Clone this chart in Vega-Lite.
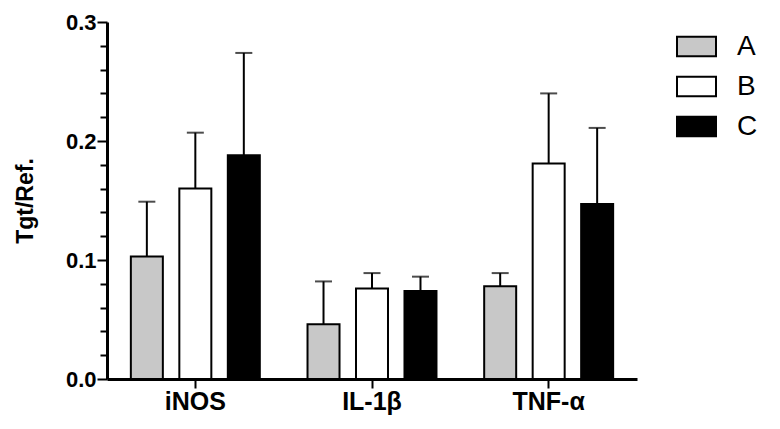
{
  "$schema": "https://vega.github.io/schema/vega-lite/v6.json",
  "autosize": {"type": "none"},
  "padding": {"left": 107, "top": 22, "right": 143, "bottom": 50},
  "width": 530,
  "height": 357,
  "background": "white",
  "data": {
    "values": [
      {"gene": "iNOS", "group": "A", "mean": 0.103, "upper": 0.149},
      {"gene": "iNOS", "group": "B", "mean": 0.160, "upper": 0.207},
      {"gene": "iNOS", "group": "C", "mean": 0.188, "upper": 0.274},
      {"gene": "IL-1β", "group": "A", "mean": 0.046, "upper": 0.082},
      {"gene": "IL-1β", "group": "B", "mean": 0.076, "upper": 0.089},
      {"gene": "IL-1β", "group": "C", "mean": 0.074, "upper": 0.086},
      {"gene": "TNF-α", "group": "A", "mean": 0.078, "upper": 0.089},
      {"gene": "TNF-α", "group": "B", "mean": 0.181, "upper": 0.240},
      {"gene": "TNF-α", "group": "C", "mean": 0.147, "upper": 0.211}
    ]
  },
  "encoding": {
    "x": {
      "field": "gene", "type": "nominal", "sort": ["iNOS", "IL-1β", "TNF-α"],
      "scale": {"paddingInner": 0.27, "paddingOuter": 0.135},
      "axis": {"title": null, "labelAngle": 0, "tickSize": 9, "labelPadding": 1,
               "labelFontSize": 25}
    },
    "xOffset": {"field": "group", "type": "nominal", "sort": ["A", "B", "C"],
                "scale": {"paddingInner": 0.34, "paddingOuter": 0}}
  },
  "layer": [
    {
      "mark": {"type": "bar", "stroke": "black", "strokeWidth": 2},
      "encoding": {
        "y": {
          "field": "mean", "type": "quantitative",
          "scale": {"domain": [0, 0.3], "nice": false},
          "axis": {
            "title": "Tgt/Ref.",
            "values": [0, 0.02, 0.04, 0.06, 0.08, 0.1, 0.12, 0.14, 0.16, 0.18, 0.2, 0.22, 0.24, 0.26, 0.28, 0.3],
            "labelExpr": "round(datum.value*100) % 10 === 0 ? format(datum.value, '.1f') : ''",
            "labelOverlap": false,
            "labelBound": false,
            "labelFlush": false,
            "tickSize": {"condition": {"test": "round(datum.value*100) % 10 === 0", "value": 10}, "value": 7},
            "labelPadding": 1,
            "labelFontSize": 22,
            "titleFontSize": 23,
            "titlePadding": 28
          }
        },
        "fill": {
          "field": "group", "type": "nominal",
          "scale": {"domain": ["A", "B", "C"], "range": ["#c8c8c8", "#ffffff", "#000000"]},
          "legend": {
            "title": null,
            "orient": "none",
            "legendX": 569,
            "legendY": 4,
            "symbolType": "M-1,-0.5H1V0.5H-1Z",
            "symbolSize": 1521,
            "symbolStrokeColor": "black",
            "symbolStrokeWidth": 2,
            "symbolOpacity": 1,
            "labelFontSize": 28,
            "labelFont": "Liberation Sans",
            "labelFontWeight": "normal",
            "labelColor": "black",
            "labelOffset": 20,
            "rowPadding": 5
          }
        }
      }
    },
    {
      "mark": {"type": "rule", "color": "black", "strokeWidth": 2},
      "encoding": {
        "y": {
          "field": "mean", "type": "quantitative",
          "axis": {
            "title": "Tgt/Ref.",
            "values": [0, 0.02, 0.04, 0.06, 0.08, 0.1, 0.12, 0.14, 0.16, 0.18, 0.2, 0.22, 0.24, 0.26, 0.28, 0.3],
            "labelExpr": "round(datum.value*100) % 10 === 0 ? format(datum.value, '.1f') : ''",
            "labelOverlap": false,
            "labelBound": false,
            "labelFlush": false,
            "tickSize": {"condition": {"test": "round(datum.value*100) % 10 === 0", "value": 10}, "value": 7},
            "labelPadding": 1,
            "labelFontSize": 22,
            "titleFontSize": 23,
            "titlePadding": 28
          }
        },
        "y2": {"field": "upper"}
      }
    },
    {
      "mark": {"type": "tick", "color": "black", "thickness": 2, "size": 17},
      "encoding": {
        "y": {
          "field": "upper", "type": "quantitative",
          "axis": {
            "title": "Tgt/Ref.",
            "values": [0, 0.02, 0.04, 0.06, 0.08, 0.1, 0.12, 0.14, 0.16, 0.18, 0.2, 0.22, 0.24, 0.26, 0.28, 0.3],
            "labelExpr": "round(datum.value*100) % 10 === 0 ? format(datum.value, '.1f') : ''",
            "labelOverlap": false,
            "labelBound": false,
            "labelFlush": false,
            "tickSize": {"condition": {"test": "round(datum.value*100) % 10 === 0", "value": 10}, "value": 7},
            "labelPadding": 1,
            "labelFontSize": 22,
            "titleFontSize": 23,
            "titlePadding": 28
          }
        }
      }
    }
  ],
  "config": {
    "view": {"stroke": null},
    "axis": {
      "grid": false,
      "domainColor": "black",
      "domainWidth": 3,
      "tickColor": "black",
      "tickWidth": 2,
      "labelFont": "Liberation Sans",
      "labelFontWeight": "bold",
      "labelColor": "black",
      "titleFont": "Liberation Sans",
      "titleFontWeight": "bold",
      "titleColor": "black"
    }
  }
}
